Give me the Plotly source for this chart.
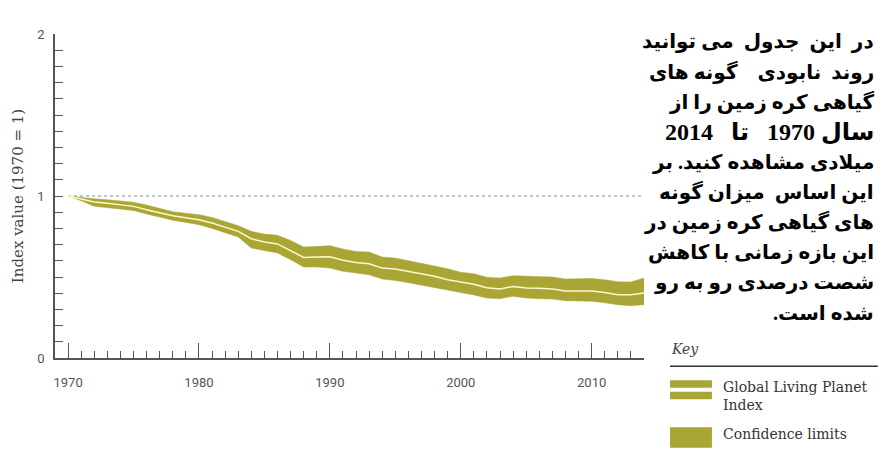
import plotly.graph_objects as go

years = list(range(1970, 2015))
index_mid = [1.0, 0.98, 0.963, 0.955, 0.946, 0.936, 0.915, 0.895, 0.878, 0.866,
             0.854, 0.833, 0.806, 0.782, 0.736, 0.716, 0.704, 0.664, 0.621, 0.623,
             0.625, 0.603, 0.590, 0.582, 0.555, 0.549, 0.535, 0.520, 0.504, 0.483,
             0.467, 0.455, 0.434, 0.426, 0.442, 0.432, 0.430, 0.426, 0.413, 0.411,
             0.413, 0.405, 0.391, 0.391, 0.401]
index_upper = [1.0, 0.99, 0.983, 0.977, 0.971, 0.961, 0.944, 0.924, 0.903, 0.893,
               0.885, 0.868, 0.843, 0.817, 0.782, 0.765, 0.757, 0.726, 0.685, 0.687,
               0.693, 0.673, 0.658, 0.654, 0.623, 0.617, 0.601, 0.586, 0.570, 0.551,
               0.529, 0.520, 0.498, 0.494, 0.508, 0.504, 0.502, 0.500, 0.487, 0.487,
               0.491, 0.483, 0.471, 0.469, 0.494]
index_lower = [1.0, 0.971, 0.936, 0.928, 0.920, 0.911, 0.889, 0.868, 0.850, 0.837,
               0.823, 0.800, 0.773, 0.747, 0.679, 0.664, 0.648, 0.607, 0.562, 0.562,
               0.555, 0.535, 0.524, 0.514, 0.487, 0.479, 0.465, 0.450, 0.434, 0.417,
               0.401, 0.389, 0.370, 0.366, 0.381, 0.370, 0.366, 0.364, 0.354, 0.350,
               0.350, 0.341, 0.329, 0.323, 0.329]
x_tickvals = [1970, 1980, 1990, 2000, 2010, 2014]
x_ticktext = ["1970", "1980", "1990", "2000", "2010", ""]
y_tickvals = [0, 1, 2]
y_ticktext = ["0", "1", "2"]
persian_lines = [
    "در  این  جدول  می توانید",
    "روند  نابودی    گونه های",
    "گیاهی کره زمین را از",
    "سال 1970   تا   2014",
    "میلادی مشاهده کنید. بر",
    "این اساس  میزان گونه",
    "های گیاهی کره زمین در",
    "این بازه زمانی با کاهش",
    "شصت درصدی رو به رو",
    "شده است.",
]
persian_sizes = [20, 20, 20, 24, 20, 20, 20, 20, 20, 20]
key_title = "Key"
legend_labels = ["Global Living Planet<br>Index", "Confidence limits"]

OLIVE = "#aaa636"
AXIS = "#555555"

W, H = 883, 455
L, R, T, B = 54.5, 239, 34.3, 96.7
PW, PH = W - L - R, H - T - B


def px(x):
    return (x - L) / PW


def py(y):
    return (H - B - y) / PH


fig = go.Figure()
fig.add_trace(go.Scatter(x=years, y=index_lower, mode="lines",
                         line=dict(color=OLIVE, width=0.5), hoverinfo="skip",
                         showlegend=False))
fig.add_trace(go.Scatter(x=years, y=index_upper, mode="lines", fill="tonexty",
                         fillcolor=OLIVE, line=dict(color=OLIVE, width=0.5),
                         showlegend=False))
fig.add_trace(go.Scatter(x=years, y=index_mid, mode="lines",
                         line=dict(color="#fff8c8", width=1.5), showlegend=False))

fig.add_shape(type="line", xref="x", yref="y", x0=years[0], x1=years[-1], y0=1, y1=1,
              line=dict(color="#888888", width=1, dash="dot"), layer="below")

# Persian annotation, one line per annotation (RTL embedding)
for i, line in enumerate(persian_lines):
    fig.add_annotation(xref="paper", yref="paper", x=px(876), y=py(42 + 30.1 * i),
                       xanchor="right", yanchor="middle", align="right",
                       text="\u202b" + line + "\u202c",
                       showarrow=False,
                       font=dict(family="Liberation Serif, DejaVu Sans",
                                 size=persian_sizes[i],
                                 weight="bold", color="#000000"))

# Key legend
fig.add_annotation(xref="paper", yref="paper", x=px(669), y=py(349), xanchor="left",
                   yanchor="middle", text="<i>%s</i>" % key_title, showarrow=False,
                   font=dict(family="DejaVu Serif", size=14, color="#444444"))
fig.add_shape(type="line", xref="paper", yref="paper", x0=px(670), x1=px(878),
              y0=py(366.5), y1=py(366.5), line=dict(color="#333333", width=1.5))
fig.add_shape(type="rect", xref="paper", yref="paper", x0=px(670), x1=px(712),
              y0=py(388), y1=py(380.5), line_width=0, fillcolor=OLIVE)
fig.add_shape(type="rect", xref="paper", yref="paper", x0=px(670), x1=px(712),
              y0=py(399.5), y1=py(392), line_width=0, fillcolor=OLIVE)
fig.add_shape(type="rect", xref="paper", yref="paper", x0=px(670), x1=px(712),
              y0=py(448), y1=py(427.5), line_width=0, fillcolor=OLIVE)
fig.add_annotation(xref="paper", yref="paper", x=px(721), y=py(396), xanchor="left",
                   yanchor="middle", align="left", text=legend_labels[0], showarrow=False,
                   font=dict(family="DejaVu Serif", size=14, color="#333333"))
fig.add_annotation(xref="paper", yref="paper", x=px(721), y=py(434), xanchor="left",
                   yanchor="middle", align="left", text=legend_labels[1], showarrow=False,
                   font=dict(family="DejaVu Serif", size=14, color="#333333"))

tickfont = dict(family="Liberation Sans Narrow, Roboto", size=13, color=AXIS)

fig.update_layout(
    width=W, height=H,
    margin=dict(l=L, r=R, t=T, b=B, pad=0),
    paper_bgcolor="white", plot_bgcolor="white",
    xaxis=dict(range=[1969, 2014], showgrid=False, zeroline=False,
               showline=True, linecolor=AXIS, linewidth=1.5,
               tickmode="array", tickvals=x_tickvals, ticktext=x_ticktext,
               ticks="inside", ticklen=15, tickwidth=1.2, tickcolor=AXIS,
               tickfont=tickfont, ticklabelstandoff=12,
               minor=dict(tick0=1970, dtick=1, ticks="inside", ticklen=7,
                          tickwidth=1.2, tickcolor=AXIS, showgrid=False)),
    yaxis=dict(range=[0, 2], showgrid=False, zeroline=False,
               showline=True, linecolor=AXIS, linewidth=1.5,
               tickmode="array", tickvals=y_tickvals, ticktext=y_ticktext,
               ticks="inside", ticklen=8, tickwidth=1.2, tickcolor=AXIS,
               tickfont=tickfont, ticklabelstandoff=6,
               title=dict(text="Index value (1970 = 1)", standoff=10,
                          font=dict(family="DejaVu Serif", size=15, color="#444444")),
               minor=dict(tick0=0, dtick=0.1, ticks="inside", ticklen=8,
                          tickwidth=1.2, tickcolor=AXIS, showgrid=False)),
)

fig.write_html("out.html")
